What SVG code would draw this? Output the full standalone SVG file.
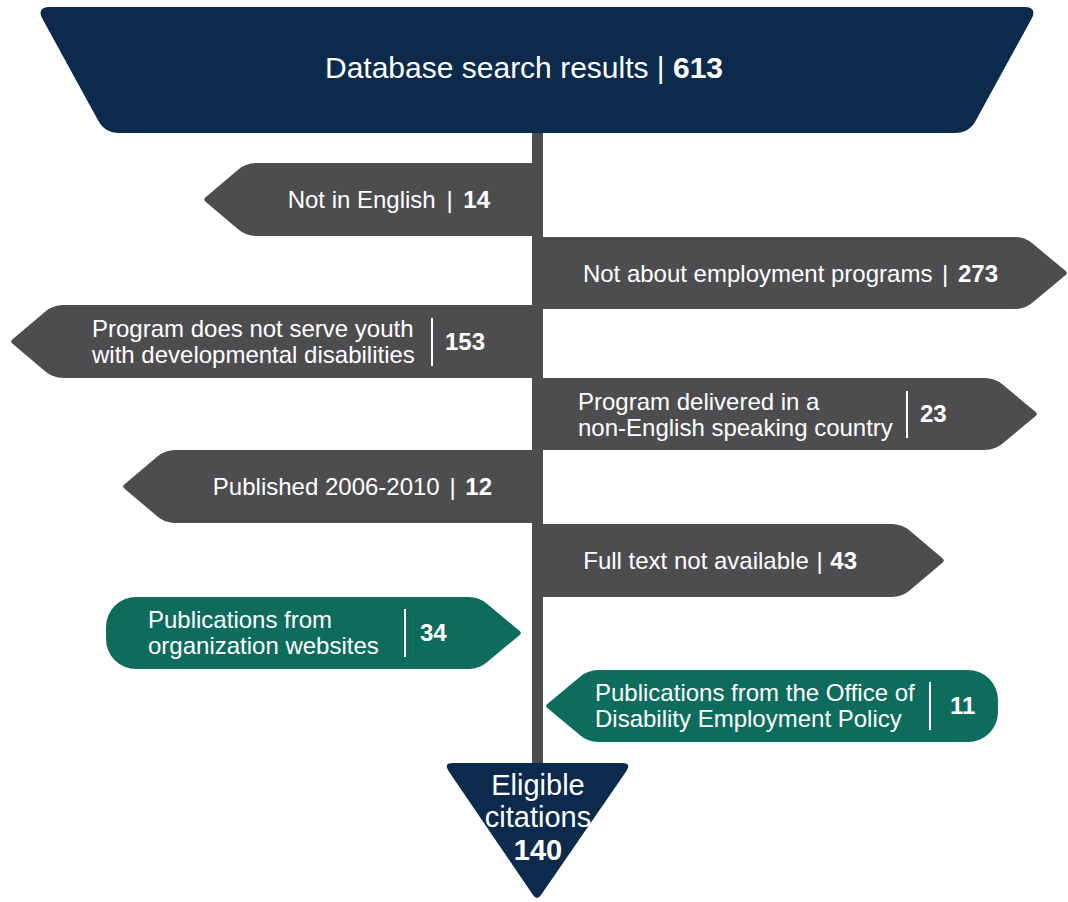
<svg xmlns="http://www.w3.org/2000/svg" width="1068" height="902" viewBox="0 0 1068 902">
<style>
.navy{fill:#0c2a4b}
.gray{fill:#4d4d4f}
.green{fill:#0e6c5d}
text{font-family:"Liberation Sans",Arial,sans-serif;fill:#ffffff}
.lbl{font-size:24px}
.num{font-size:24px;font-weight:bold}
.sep{stroke:#ffffff;stroke-width:2}
</style>
<rect width="1068" height="902" fill="#ffffff"/>
<g id="connectors">
<rect x="532" y="130" width="11" height="640" fill="#4d4d4f"/>
</g>
<g id="start">
<path class="navy" d="M50,7 H1024 Q1038,7 1031.3,19.3 L975.7,120.7 Q969,133 955,133 H119 Q105,133 98.3,120.7 L42.7,19.3 Q36,7 50,7 Z"/>
<text x="325" y="78" font-size="30">Database search results | <tspan font-weight="bold">613</tspan></text>
</g>
<g id="not-english">
<path class="gray" d="M536,163 H256 Q246,163 238.4,169.5 L205.3,197.6 Q203,199.5 205.3,201.4 L238.4,229.5 Q246,236 256,236 H536 Z"/>
<text class="lbl" x="490" y="208" text-anchor="end">Not in English <tspan dx="4">|</tspan> <tspan dx="4" font-weight="bold">14</tspan></text>
</g>
<g id="not-employment">
<path class="gray" d="M539,237 H1015 Q1025,237 1032.6,243.5 L1065.7,271.1 Q1068,273 1065.7,274.9 L1032.6,302.5 Q1025,309 1015,309 H539 Z"/>
<text class="lbl" x="998" y="282" text-anchor="end">Not about employment programs <tspan dx="3">|</tspan> <tspan dx="3" font-weight="bold">273</tspan></text>
</g>
<g id="not-youth">
<path class="gray" d="M536,305 H63 Q53,305 45.4,311.5 L12.3,339.6 Q10,341.5 12.3,343.4 L45.4,371.5 Q53,378 63,378 H536 Z"/>
<text class="lbl" x="92" y="337">Program does not serve youth</text>
<text class="lbl" x="92" y="363">with developmental disabilities</text>
<line class="sep" x1="432" y1="318" x2="432" y2="366"/>
<text class="num" x="445" y="350">153</text>
</g>
<g id="non-english-country">
<path class="gray" d="M539,378 H985 Q995,378 1002.6,384.5 L1035.7,412.1 Q1038,414 1035.7,415.9 L1002.6,443.5 Q995,450 985,450 H539 Z"/>
<text class="lbl" x="578" y="410">Program delivered in a</text>
<text class="lbl" x="578" y="436">non-English speaking country</text>
<line class="sep" x1="907" y1="391" x2="907" y2="438"/>
<text class="num" x="920" y="422">23</text>
</g>
<g id="published">
<path class="gray" d="M536,450 H175 Q165,450 157.4,456.5 L124.3,484.6 Q122,486.5 124.3,488.4 L157.4,516.5 Q165,523 175,523 H536 Z"/>
<text class="lbl" x="492" y="495" text-anchor="end">Published 2006-2010 <tspan dx="3">|</tspan> <tspan dx="3" font-weight="bold">12</tspan></text>
</g>
<g id="full-text">
<path class="gray" d="M539,524 H892 Q902,524 909.6,530.5 L942.7,558.6 Q945,560.5 942.7,562.4 L909.6,590.5 Q902,597 892,597 H539 Z"/>
<text class="lbl" x="857" y="569" text-anchor="end">Full text not available <tspan dx="1">|</tspan> <tspan dx="1" font-weight="bold">43</tspan></text>
</g>
<g id="org-websites">
<path class="green" d="M136,597 H469 Q479,597 486.6,603.5 L519.7,631.1 Q522,633 519.7,634.9 L486.6,662.5 Q479,669 469,669 H136 A30,30 0 0 1 106,639 V627 A30,30 0 0 1 136,597 Z"/>
<text class="lbl" x="148" y="628">Publications from</text>
<text class="lbl" x="148" y="654">organization websites</text>
<line class="sep" x1="405" y1="609" x2="405" y2="657"/>
<text class="num" x="420" y="641">34</text>
</g>
<g id="odep">
<path class="green" d="M968,670 H598 Q588,670 580.4,676.5 L547.3,704.1 Q545,706 547.3,707.9 L580.4,735.5 Q588,742 598,742 H968 A30,30 0 0 0 998,712 V700 A30,30 0 0 0 968,670 Z"/>
<text class="lbl" x="595" y="701">Publications from the Office of</text>
<text class="lbl" x="595" y="727">Disability Employment Policy</text>
<line class="sep" x1="930" y1="682" x2="930" y2="730"/>
<text class="num" x="950" y="714">11</text>
</g>
<g id="eligible">
<path class="navy" d="M453,763 H622 Q632,763 626.3,771.3 L541,895 Q537,901 533,895 L448.7,771.3 Q443,763 453,763 Z"/>
<text x="538" y="795" font-size="29" text-anchor="middle">Eligible</text>
<text x="538" y="827" font-size="29" text-anchor="middle">citations</text>
<text x="538" y="860" font-size="29" font-weight="bold" text-anchor="middle">140</text>
</g>
</svg>
